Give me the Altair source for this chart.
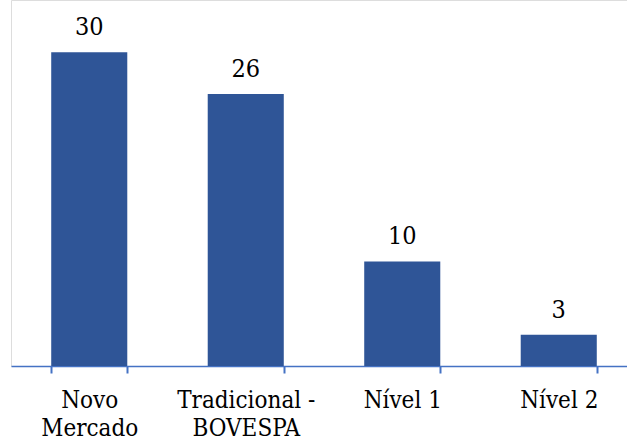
import altair as alt
import pandas as pd

categories = ["Novo\nMercado", "Tradicional -\nBOVESPA", "Nível 1", "Nível 2"]
values = [30, 26, 10, 3]

df = pd.DataFrame({"categoria": categories, "valor": values})

FONT = "DejaVu Serif Condensed"
BAR = "#2F5597"
AXIS = "#4472C4"

x = alt.X(
    "categoria:N",
    sort=categories,
    title=None,
    scale=alt.Scale(range=[0, 626], paddingInner=0.514, paddingOuter=0.257),
    axis=alt.Axis(
        labelExpr="split(datum.label, '\\n')",
        labelAngle=0,
        labelFont=FONT,
        labelFontSize=24,
        labelColor="#000000",
        labelBaseline="alphabetic",
        labelLineHeight=28,
        labelPadding=34,
        tickSize=7,
        tickBand="extent",
        tickColor=AXIS,
        tickWidth=2,
        domainColor=AXIS,
        domainWidth=1.5,
        grid=False,
    ),
)
y = alt.Y(
    "valor:Q",
    scale=alt.Scale(domain=[0, 35], nice=False),
    axis=None,
)

bars = alt.Chart(df).mark_bar(color=BAR).encode(x=x, y=y)
labels = alt.Chart(df).mark_text(
    font=FONT, fontSize=25, color="#000000", baseline="alphabetic", dy=-17
).encode(x=x, y=y, text="valor:Q")

chart = (
    (bars + labels)
    .properties(
        width=616,
        height=366,
        autosize=alt.AutoSizeParams(type="none"),
        padding={"left": 11, "top": 0, "right": 0, "bottom": 71},
    )
    .configure_view(stroke=None)
    .configure(background="#ffffff")
)

chart.save("out.html", embed_options={"renderer": "svg", "actions": False})
